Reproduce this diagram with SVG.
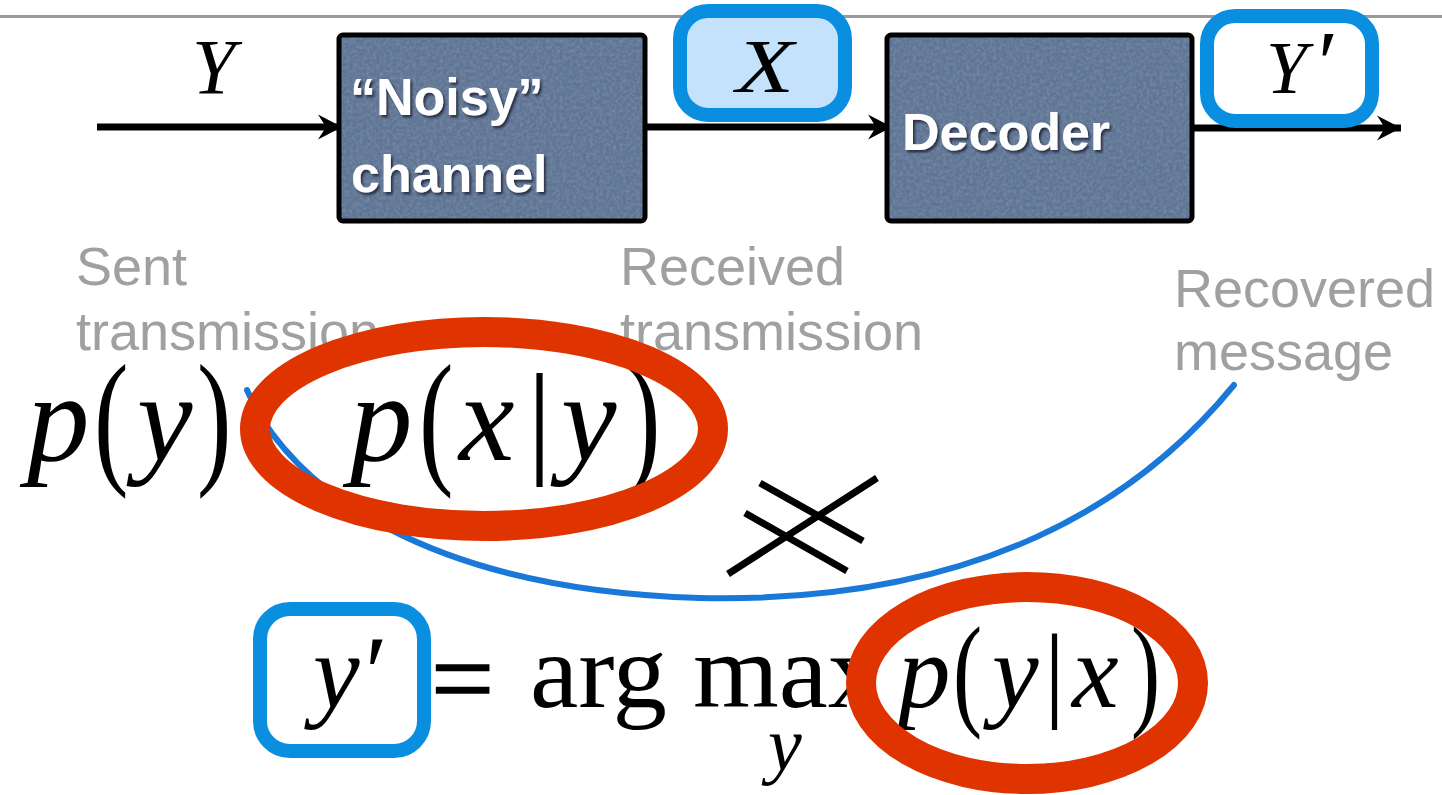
<svg xmlns="http://www.w3.org/2000/svg" width="1442" height="795" viewBox="0 0 1442 795">
  <style>
    .rule { stroke: #9a9a9a; stroke-width: 3; }
    .wire { stroke: #000; stroke-width: 7; fill: none; }
    .block { fill: #5e7493; stroke: #000; stroke-width: 5; }
    .blocktxt { font-family: "Liberation Sans", Arial, sans-serif; font-weight: bold; font-size: 52px; fill: #ffffff; }
    .tag { stroke: #0a8fe0; stroke-width: 14; }
    .mi { font-family: "Liberation Serif", "Times New Roman", serif; font-style: italic; fill: #000; }
    .mr { font-family: "Liberation Serif", "Times New Roman", serif; fill: #000; }
    .note { font-family: "Liberation Sans", Arial, sans-serif; font-size: 54px; fill: #a0a0a0; }
    .ring { fill: none; stroke: #e03400; stroke-width: 30; }
    .link { fill: none; stroke: #1a78d8; stroke-width: 6; stroke-linecap: round; }
    .cross { stroke: #000; stroke-width: 7; stroke-linecap: butt; }
  </style>
  <defs>
    <marker id="head" markerUnits="userSpaceOnUse" markerWidth="26" markerHeight="28" refX="24" refY="13" orient="auto">
      <path d="M24,13 L0,0.5 L8,13 L0,25.5 Z" fill="#000"/>
    </marker>
    <filter id="grain" x="0" y="0" width="100%" height="100%">
      <feTurbulence type="fractalNoise" baseFrequency="0.3" numOctaves="2" seed="7" result="n"/>
      <feColorMatrix in="n" type="matrix" values="0 0 0 0 0.85  0 0 0 0 0.9  0 0 0 0 1  0 0 0 0.3 -0.1" result="m"/>
      <feComposite in="m" in2="SourceGraphic" operator="in"/>
    </filter>
    <filter id="shade" x="-5%" y="-20%" width="115%" height="150%">
      <feDropShadow dx="2" dy="2.5" stdDeviation="1.2" flood-color="#1e2838" flood-opacity="0.85"/>
    </filter>
    <filter id="soft" x="-10%" y="-10%" width="120%" height="120%">
      <feGaussianBlur stdDeviation="0.5"/>
    </filter>
  </defs>

  <!-- header rule -->
  <line class="rule" x1="0" y1="16.5" x2="1442" y2="16.5"/>

  <!-- signal path -->
  <g id="connectors">
    <line class="wire" x1="97" y1="127" x2="342" y2="127" marker-end="url(#head)"/>
    <line class="wire" x1="645" y1="127" x2="892" y2="127" marker-end="url(#head)"/>
    <line class="wire" x1="1192" y1="128" x2="1401" y2="128" marker-end="url(#head)"/>
  </g>

  <g id="input-label">
    <text class="mi" x="192" y="93" font-size="78">Y</text>
  </g>

  <g id="channel">
    <rect class="block" x="339" y="35" width="306" height="186" rx="4"/>
    <rect x="341.5" y="37.5" width="301" height="181" fill="#fff" filter="url(#grain)"/>
    <g filter="url(#shade)">
      <text class="blocktxt" x="350" y="115">“Noisy”</text>
      <text class="blocktxt" x="351" y="192">channel</text>
    </g>
  </g>

  <g id="received">
    <rect class="tag" x="680" y="11" width="165" height="104" rx="28" fill="#c4e2fb"/>
    <text class="mi" x="736" y="92" font-size="76" textLength="58" lengthAdjust="spacingAndGlyphs">X</text>
  </g>

  <g id="decoder">
    <rect class="block" x="887" y="35" width="305" height="186" rx="4"/>
    <rect x="889.5" y="37.5" width="300" height="181" fill="#fff" filter="url(#grain)"/>
    <g filter="url(#shade)">
      <text class="blocktxt" x="902" y="150" font-size="53">Decoder</text>
    </g>
  </g>

  <g id="recovered">
    <rect class="tag" x="1207" y="16" width="165" height="105" rx="28" fill="#ffffff"/>
    <text class="mi" x="1266" y="93" font-size="74">Y</text>
    <text class="mr" x="1318" y="94" font-size="92" font-family="DejaVu Serif, serif">′</text>
  </g>

  <!-- captions -->
  <g id="captions">
    <text class="note" x="76" y="285">Sent</text>
    <text class="note" x="76" y="350">transmission</text>
    <text class="note" x="620" y="285">Received</text>
    <text class="note" x="620" y="350">transmission</text>
    <text class="note" x="1174" y="307">Recovered</text>
    <text class="note" x="1174" y="370">message</text>
  </g>

  <!-- prior and likelihood -->
  <g id="prior">
    <text class="mi" x="27" y="460" font-size="125">p</text>
    <text class="mr" font-size="148" transform="translate(94,467) scale(0.7,1)">(</text>
    <text class="mi" x="137" y="460" font-size="125">y</text>
    <text class="mr" font-size="148" transform="translate(197,467) scale(0.7,1)">)</text>
  </g>
  <g id="likelihood">
    <text class="mi" x="350" y="460" font-size="125">p</text>
    <text class="mr" font-size="148" transform="translate(419,467) scale(0.7,1)">(</text>
    <text class="mi" x="459" y="460" font-size="125">x</text>
    <text class="mr" x="527" y="460" font-size="125">|</text>
    <text class="mi" x="561" y="460" font-size="125">y</text>
    <text class="mr" font-size="148" transform="translate(626,467) scale(0.7,1)">)</text>
  </g>

  <!-- decoding rule -->
  <g id="estimate">
    <rect class="tag" x="260" y="609" width="164" height="142" rx="30" fill="#ffffff"/>
    <text class="mi" x="313" y="707" font-size="105">y</text>
    <text class="mr" x="365" y="708" font-size="104" font-family="DejaVu Serif, serif">′</text>
  </g>
  <g id="argmax">
    <text class="mr" x="431" y="716" font-size="112" stroke="#000" stroke-width="1.5">=</text>
    <text class="mr" x="530" y="707" font-size="105" textLength="137" lengthAdjust="spacingAndGlyphs">arg</text>
    <text class="mr" x="693" y="707" font-size="105" textLength="190" lengthAdjust="spacingAndGlyphs">max</text>
    <text class="mi" x="768" y="770" font-size="76">y</text>
  </g>
  <g id="posterior">
    <text class="mi" x="898" y="707" font-size="105">p</text>
    <text class="mr" font-size="125" transform="translate(953,713) scale(0.7,1)">(</text>
    <text class="mi" x="992" y="707" font-size="105">y</text>
    <text class="mr" x="1044" y="707" font-size="105">|</text>
    <text class="mi" x="1072" y="707" font-size="105">x</text>
    <text class="mr" font-size="125" transform="translate(1131,713) scale(0.7,1)">)</text>
  </g>

  <!-- link from prior to recovered message -->
  <g id="link">
    <path class="link" d="M247,390 C290,490 430,590 700,598 C980,604 1140,500 1234,385"/>
  </g>

  <!-- highlight rings -->
  <g id="rings">
    <ellipse class="ring" cx="484" cy="429" rx="229" ry="97"/>
    <ellipse class="ring" cx="1027" cy="683" rx="166" ry="96"/>
  </g>

  <!-- not-equal mark -->
  <g id="not-equal" filter="url(#soft)">
    <line class="cross" x1="760" y1="483" x2="863" y2="541"/>
    <line class="cross" x1="745" y1="513" x2="847" y2="571"/>
    <line class="cross" x1="728" y1="574" x2="877" y2="478"/>
  </g>
</svg>
